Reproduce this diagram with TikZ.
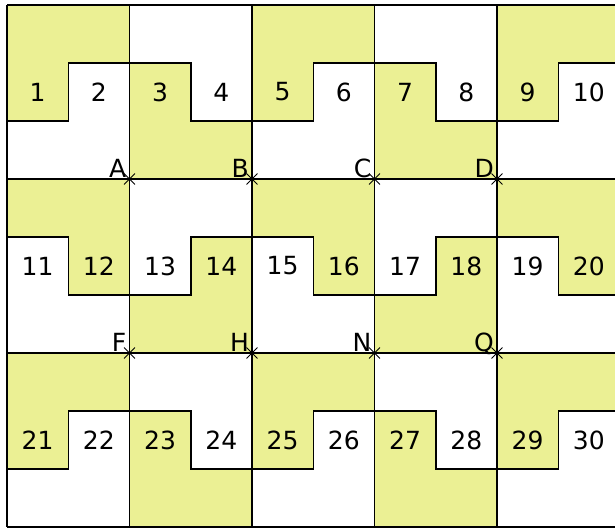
\documentclass[tikz,border=0pt]{standalone}
\usepackage{fontspec}
\setmainfont{DejaVu Sans}
\usetikzlibrary{shapes.misc,calc}
\definecolor{PieceYellow}{HTML}{EBF094}
\definecolor{PieceEdge}{HTML}{000000}

\begin{document}
\begin{tikzpicture}[x=1pt,y=-1pt,
    piece/.style={fill=PieceYellow},
    edge/.style={draw=PieceEdge,line width=1.5pt},
    num/.style={font=\fontsize{25}{30}\selectfont,inner sep=0pt},
    lettr/.style={font=\fontsize{25}{30}\selectfont,inner sep=0pt,anchor=base east,xshift=-3pt,yshift=2pt},
    ptmark/.style={draw=PieceEdge,cross out,line width=0.9pt,minimum size=10pt,inner sep=0pt}]
  \clip (0,0) rectangle (615,528);
  \def\cellw{122.5} \def\cellh{174}
  % yellow pieces, step lines and numbers
  \foreach \r in {0,1,2}
    \foreach \c in {0,...,4} {
      \pgfmathsetmacro\ox{7+\c*\cellw}
      \pgfmathsetmacro\oy{5+\r*\cellh}
      \pgfmathsetmacro\yl{mod(\c+\r,2)==0 ? 116 : 58}
      \pgfmathsetmacro\yr{174-\yl}
      \pgfmathsetmacro\ye{mod(\c,2)==0 ? 0 : 174}
      \pgfmathtruncatemacro\nl{10*\r+2*\c+1}
      \pgfmathtruncatemacro\nr{\nl+1}
      \begin{scope}[shift={(\ox,\oy)}]
        \fill[piece] (0,\ye) -- (\cellw,\ye) -- (\cellw,\yr) -- (\cellw/2,\yr) -- (\cellw/2,\yl) -- (0,\yl) -- cycle;
        \draw[edge] (0,\yl) -- (\cellw/2,\yl) -- (\cellw/2,\yr) -- (\cellw,\yr);
        \node[num] (n\nl) at (\cellw/4,87) {\nl};
        \node[num] (n\nr) at (3*\cellw/4,87) {\nr};
      \end{scope}
    }
  % grid
  \foreach \i in {0,...,5}
    \draw[edge] (7+\i*\cellw,5) -- (7+\i*\cellw,527);
  \foreach \j in {0,...,3}
    \draw[edge] (7,5+\j*\cellh) -- (7+5*\cellw,5+\j*\cellh);
  % marked corners
  \foreach \lab/\i/\j in {A/1/1,B/2/1,C/3/1,D/4/1,F/1/2,H/2/2,N/3/2,Q/4/2} {
    \node[ptmark] (p\lab) at (7+\i*\cellw,5+\j*\cellh) {};
    \node[lettr] (\lab) at (p\lab.center) {\lab};
  }
\end{tikzpicture}
\end{document}
